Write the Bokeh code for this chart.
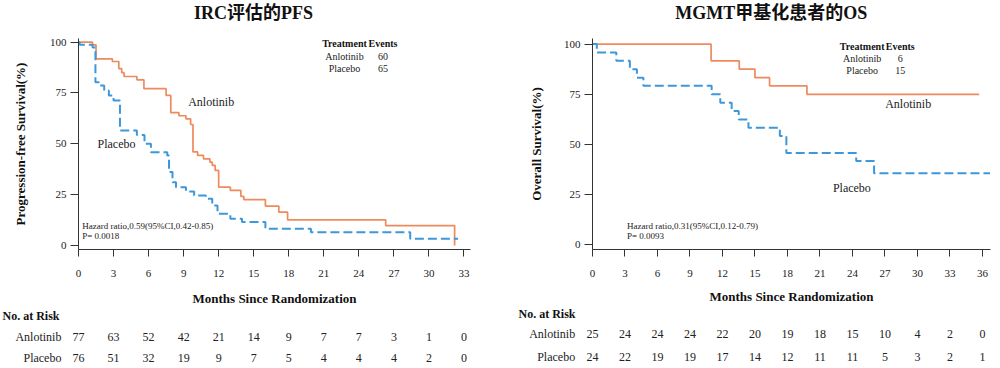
from bokeh.plotting import figure
from bokeh.layouts import row, column
from bokeh.models import Range1d, FixedTicker
from bokeh.core.properties import value
from bokeh.embed import file_html
from bokeh.resources import INLINE

SERIF = "Liberation Serif"
TITLE_FONT = "Liberation Serif, Noto Sans CJK SC"
ORANGE = "#EE8A5E"
BLUE = "#3D97DB"
INK = "#222222"
AXIS = "#333333"

# ---------------- data: PFS (IRC) ----------------
pfs_title = "IRC评估的PFS"
pfs_ylabel = "Progression-free Survival(%)"
pfs_anl_t = [1.2, 1.5, 2.9, 3.45, 3.7, 3.9, 5.0, 5.6, 7.5, 7.9, 8.6, 9.2, 9.6, 9.8,
             10.2, 10.7, 11.25, 11.45, 11.7, 12.0, 13.0, 13.9, 14.15, 16.0, 17.15, 17.9, 26.3, 32.2]
pfs_anl_s = [98.7, 91.8, 90.5, 87.0, 85.0, 83.1, 81.5, 77.1, 73.8, 65.3, 63.8, 62.3, 59.5, 46.0,
             44.3, 42.6, 41.0, 39.4, 36.9, 28.7, 27.1, 24.2, 22.6, 19.4, 16.4, 12.6, 9.8, 0.0]
pfs_anl_end = 32.2
pfs_plc_t = [0.1, 1.2, 1.45, 1.75, 2.2, 2.6, 3.0, 3.55, 5.0, 5.65, 6.2, 7.6, 7.75, 8.05, 8.35,
             9.2, 9.9, 10.9, 11.45, 11.9, 13.0, 14.0, 16.0, 19.9, 28.4]
pfs_plc_s = [98.7, 97.4, 80.3, 78.7, 76.2, 73.8, 71.3, 56.6, 54.4, 50.0, 45.9, 44.3, 36.1, 31.1, 28.7,
             26.6, 24.6, 23.0, 19.7, 15.6, 13.1, 11.5, 8.2, 6.5, 3.3]
pfs_plc_end = 32.5
pfs_events = ["60", "65"]
pfs_hr = ["Hazard ratio,0.59(95%CI,0.42-0.85)", "P= 0.0018"]
pfs_risk_t = [0, 3, 6, 9, 12, 15, 18, 21, 24, 27, 30, 33]
pfs_risk_anl = [77, 63, 52, 42, 21, 14, 9, 7, 7, 3, 1, 0]
pfs_risk_plc = [76, 51, 32, 19, 9, 7, 5, 4, 4, 4, 2, 0]

# ---------------- data: OS (MGMT methylated) ----------------
os_title = "MGMT甲基化患者的OS"
os_ylabel = "Overall Survival(%)"
os_anl_t = [10.95, 13.55, 15.0, 16.35, 19.8]
os_anl_s = [91.7, 87.5, 83.3, 79.2, 75.0]
os_anl_end = 35.7
os_plc_t = [0.4, 2.2, 3.45, 4.1, 4.7, 11.0, 11.8, 12.85, 13.5, 14.4, 17.3, 17.9, 24.35, 26.0]
os_plc_s = [95.8, 91.7, 87.5, 83.3, 79.2, 75.0, 70.8, 66.7, 62.5, 58.3, 54.2, 45.8, 41.7, 35.7]
os_plc_end = 36.7
os_events = ["6", "15"]
os_hr = ["Hazard ratio,0.31(95%CI,0.12-0.79)", "P= 0.0093"]
os_risk_t = [0, 3, 6, 9, 12, 15, 18, 21, 24, 27, 30, 33, 36]
os_risk_anl = [25, 24, 24, 24, 22, 20, 19, 18, 15, 10, 4, 2, 0]
os_risk_plc = [24, 22, 19, 19, 17, 14, 12, 11, 11, 5, 3, 2, 1]

groups = ["Anlotinib", "Placebo"]
xlabel = "Months Since Randomization"

W = 500
HEAD_H = 24
KM_H = 261
RISK_H = 83


def steps(t, s, end):
    return [0] + list(t) + [end], [100] + list(s) + [s[-1]]


def strip(height, xr):
    f = figure(width=W, height=height, x_range=xr, y_range=Range1d(height, 0),
               min_border=0, toolbar_location=None, output_backend="svg",
               x_axis_location=None, y_axis_location=None, frame_align=False)
    f.outline_line_color = None
    f.grid.visible = False
    return f


def panel(cfg):
    fl, fr, ft, fb = cfg["borders"]
    x0, x1 = cfg["xr"]
    px_per = (W - fl - fr) / (x1 - x0)
    wide = Range1d(x0 - fl / px_per, x0 + (W - fl) / px_per)

    # header with the title
    h = strip(HEAD_H, wide)
    h.text(x=[cfg["title_x"]], y=[12], text=[cfg["title"]], text_font=value(TITLE_FONT),
           text_font_size="18px", text_font_style="bold", text_align="center",
           text_baseline="middle", text_color="#111111")

    p = figure(width=W, height=KM_H, x_range=Range1d(x0, x1), y_range=Range1d(*cfg["yr"]),
               min_border_left=fl, min_border_right=fr, min_border_top=ft, min_border_bottom=fb,
               toolbar_location=None, output_backend="svg", frame_align=False)
    p.outline_line_color = None
    p.grid.visible = False

    for ax in (p.xaxis[0], p.yaxis[0]):
        ax.axis_line_color = AXIS
        ax.major_tick_line_color = AXIS
        ax.minor_tick_line_color = None
        ax.major_tick_in = 0
        ax.major_label_text_font = SERIF
        ax.major_label_text_font_size = "11px"
        ax.major_label_text_color = INK
    p.xaxis.ticker = FixedTicker(ticks=cfg["risk_t"])
    p.xaxis.major_tick_out = 7
    p.xaxis.major_label_standoff = 13
    p.yaxis.ticker = FixedTicker(ticks=[0, 25, 50, 75, 100])
    p.yaxis.major_tick_out = 8
    p.yaxis.major_label_standoff = 4
    p.yaxis.axis_label = cfg["ylabel"]
    p.yaxis.axis_label_text_font = SERIF
    p.yaxis.axis_label_text_font_size = "13px"
    p.yaxis.axis_label_text_font_style = "bold"
    p.yaxis.axis_label_text_color = "#111111"
    p.yaxis.axis_label_standoff = cfg["ylab_standoff"]

    xa, ya = steps(cfg["anl_t"], cfg["anl_s"], cfg["anl_end"])
    xp, yp = steps(cfg["plc_t"], cfg["plc_s"], cfg["plc_end"])
    p.step(xa, ya, mode="after", line_color=ORANGE, line_width=1.7)
    p.step(xp, yp, mode="after", line_color=BLUE, line_width=2, line_dash="9 4")

    # Treatment / Events table
    c1, c2 = cfg["tab_x"]
    ty = cfg["tab_y"]
    p.text(x=[c1, c2], y=[ty[0], ty[0]], text=["Treatment", "Events"], text_font=value(SERIF),
           text_font_size="10px", text_font_style="bold", text_align="center",
           text_baseline="middle", text_color="#111111")
    p.text(x=[c1, c1, c2, c2], y=[ty[1], ty[2], ty[1], ty[2]],
           text=groups + cfg["events"], text_font=value(SERIF), text_font_size="10px",
           text_align="center", text_baseline="middle", text_color=INK)
    # curve labels
    p.text(x=cfg["lab_x"], y=cfg["lab_y"], text=groups, text_font=value(SERIF),
           text_font_size="12px", text_align="center", text_baseline="middle", text_color=INK)
    # hazard ratio
    p.text(x=[cfg["hr_x"]] * 2, y=cfg["hr_y"], text=cfg["hr"], text_font=value(SERIF),
           text_font_size="9px", text_align="left", text_baseline="middle", text_color=INK)

    # risk table strip, on the same month scale
    r = strip(RISK_H, wide)
    ry = cfg["risk_y"]
    r.text(x=[(x0 + x1) / 2], y=[ry[0]], text=[xlabel], text_font=value(SERIF),
           text_font_size="13px", text_font_style="bold", text_align="center",
           text_baseline="middle", text_color="#111111")
    r.text(x=[wide.start + cfg["nar_dx"] / px_per], y=[ry[1]], text=["No. at Risk"],
           text_font=value(SERIF), text_font_size="12px", text_font_style="bold",
           text_align="left", text_baseline="middle", text_color="#111111")
    r.text(x=[cfg["row_x"]] * 2, y=[ry[2], ry[3]], text=groups, text_font=value(SERIF),
           text_font_size="12px", text_align="right", text_baseline="middle", text_color=INK)
    n = len(cfg["risk_t"])
    r.text(x=cfg["risk_t"], y=[ry[2]] * n, text=[str(v) for v in cfg["risk_anl"]],
           text_font=value(SERIF), text_font_size="12px", text_align="center",
           text_baseline="middle", text_color=INK)
    r.text(x=cfg["risk_t"], y=[ry[3]] * n, text=[str(v) for v in cfg["risk_plc"]],
           text_font=value(SERIF), text_font_size="12px", text_align="center",
           text_baseline="middle", text_color=INK)
    return column(h, p, r, spacing=0)


left = panel(dict(
    title=pfs_title, title_x=14.98, ylabel=pfs_ylabel, borders=(78, 30, 14, 36),
    xr=(0, 33.56), yr=(-1.97, 101.8), ylab_standoff=19,
    anl_t=pfs_anl_t, anl_s=pfs_anl_s, anl_end=pfs_anl_end,
    plc_t=pfs_plc_t, plc_s=pfs_plc_s, plc_end=pfs_plc_end,
    tab_x=(22.77, 26.07), tab_y=(99.2, 93.1, 87.2), events=pfs_events,
    lab_x=[11.36, 3.25], lab_y=[70.5, 49.7],
    hr_x=0.32, hr_y=[9.8, 4.9], hr=pfs_hr,
    risk_t=pfs_risk_t, risk_anl=pfs_risk_anl, risk_plc=pfs_risk_plc,
    risk_y=[13, 30, 51, 72], nar_dx=2, row_x=-1.46,
))

right = panel(dict(
    title=os_title, title_x=16.5, ylabel=os_ylabel, borders=(92, 10, 14, 36),
    xr=(0, 36.75), yr=(-2.34, 102.8), ylab_standoff=17,
    anl_t=os_anl_t, anl_s=os_anl_s, anl_end=os_anl_end,
    plc_t=os_plc_t, plc_s=os_plc_s, plc_end=os_plc_end,
    tab_x=(24.9, 28.42), tab_y=(98.9, 92.9, 86.9), events=os_events,
    lab_x=[29.15, 23.95], lab_y=[70.3, 28.2],
    hr_x=3.18, hr_y=[9.6, 4.6], hr=os_hr,
    risk_t=os_risk_t, risk_anl=os_risk_anl, risk_plc=os_risk_plc,
    risk_y=[11, 28, 48, 71], nar_dx=18, row_x=-1.6,
))

layout = row(left, right, spacing=0)
open("out.html", "w").write(file_html(layout, INLINE))
